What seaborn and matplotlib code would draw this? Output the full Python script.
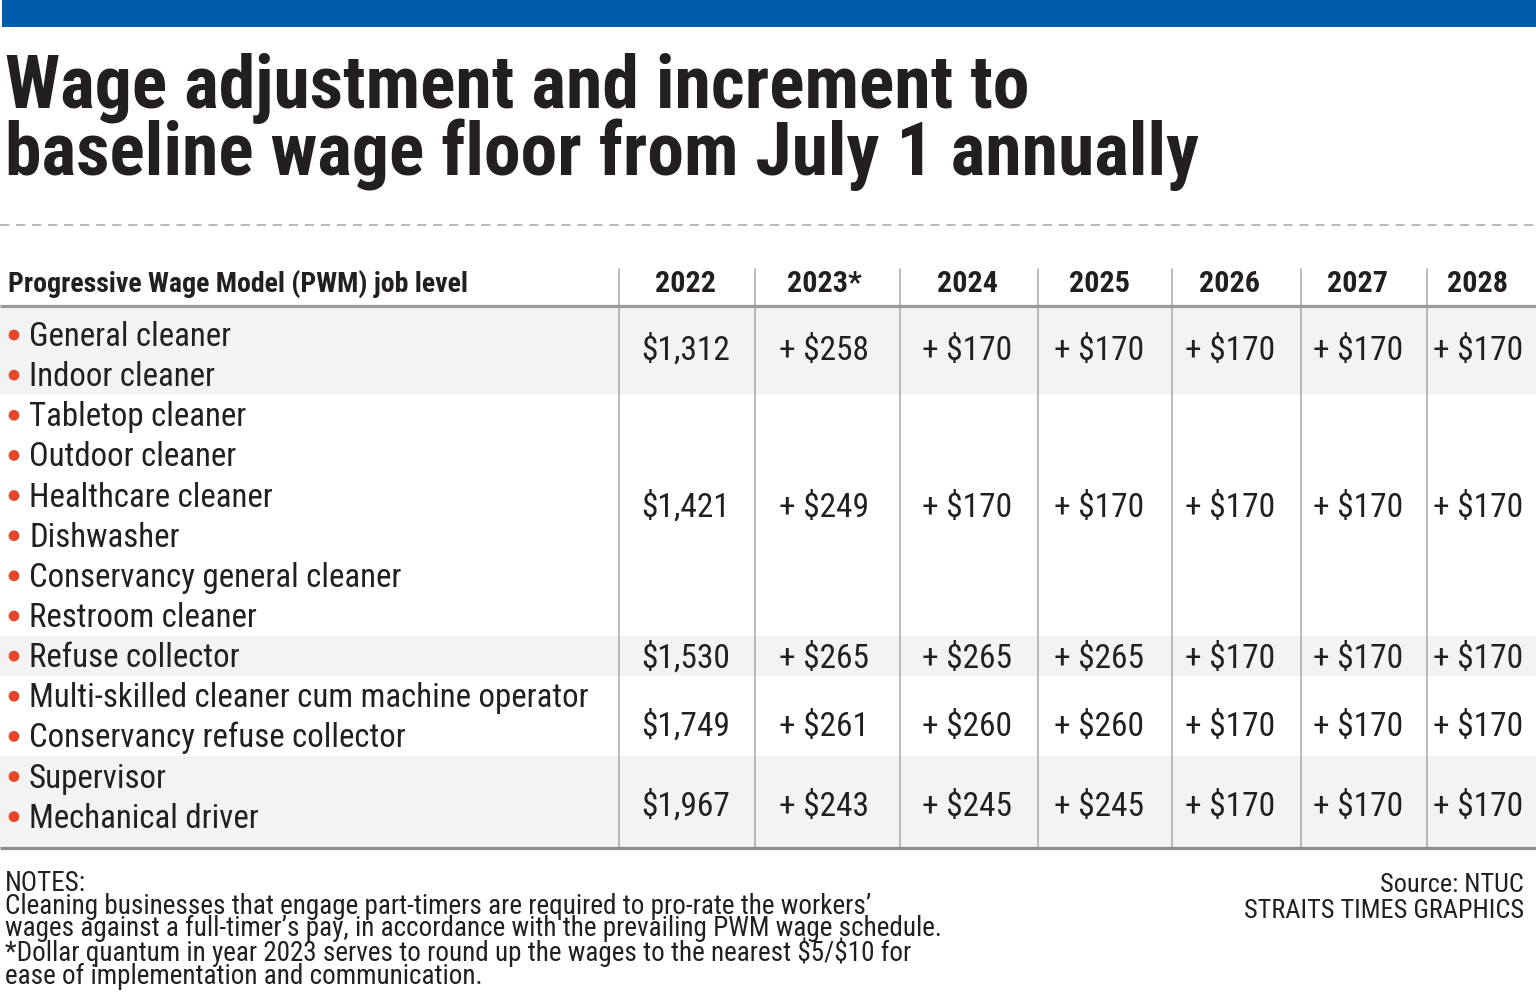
import numpy as np
import pandas as pd
import matplotlib
matplotlib.use("Agg")
import matplotlib.pyplot as plt
import seaborn as sns
from matplotlib import font_manager as fm
from matplotlib.patches import Rectangle

# ---------------- data ----------------
TITLE_LINES = ["Wage adjustment and increment to",
               "baseline wage floor from July 1 annually"]
HEADER_LABEL = "Progressive Wage Model (PWM) job level"
YEARS = ["2022", "2023*", "2024", "2025", "2026", "2027", "2028"]
JOB_GROUPS = [
    ["General cleaner", "Indoor cleaner"],
    ["Tabletop cleaner", "Outdoor cleaner", "Healthcare cleaner", "Dishwasher",
     "Conservancy general cleaner", "Restroom cleaner"],
    ["Refuse collector"],
    ["Multi-skilled cleaner cum machine operator", "Conservancy refuse collector"],
    ["Supervisor", "Mechanical driver"],
]
BASE_2022 = [1312, 1421, 1530, 1749, 1967]
INC_2023 = [258, 249, 265, 261, 243]
INC_2024 = [170, 170, 265, 260, 245]
INC_2025 = [170, 170, 265, 260, 245]
INC_2026 = [170, 170, 170, 170, 170]
INC_2027 = [170, 170, 170, 170, 170]
INC_2028 = [170, 170, 170, 170, 170]
NOTES = [
    "NOTES:",
    "Cleaning businesses that engage part-timers are required to pro-rate the workers\u2019",
    "wages against a full-timer\u2019s pay, in accordance with the prevailing PWM wage schedule.",
    "*Dollar quantum in year 2023 serves to round up the wages to the nearest $5/$10 for",
    "ease of implementation and communication.",
]
SOURCE = ["Source: NTUC", "STRAITS TIMES GRAPHICS"]

# ---------------- layout / style ----------------
W, H = 1536, 995
TEXT = "#231f20"
BLUE = "#005dab"
SHADE = "#f2f3f2"
RULE = "#9b9b9b"
BULLET = "#e8462a"

COL_SEP_X = [619, 755, 900, 1038, 1172, 1301, 1427]
COL_TEXT_X = [686, 824, 967, 1099, 1230, 1358, 1478]
ITEM_Y0, ITEM_DY = 336.0, 40.14
VALUE_BASELINE = [360, 517, 668, 736, 816]
TABLE_TOP, TABLE_BOTTOM = 307, 849
NOTE_Y0, NOTE_DY = 891.0, 23.2

sns.set_theme(style="white")
avail = {f.name for f in fm.fontManager.ttflist}


def pick(cands):
    for c in cands:
        if c in avail:
            return c
    return "DejaVu Sans"


NARROW = pick(["Roboto Condensed", "Liberation Sans Narrow", "Roboto", "DejaVu Sans"])
FAM = [NARROW, "DejaVu Sans"]
plt.rcParams["font.family"] = FAM

fig = plt.figure(figsize=(W / 100, H / 100), dpi=100)
ax = fig.add_axes([0, 0, 1, 1])
ax.set_xlim(0, W)
ax.set_ylim(H, 0)
ax.axis("off")
renderer = fig.canvas.get_renderer()


def txt(x, y, s, **kw):
    kw.setdefault("color", TEXT)
    kw.setdefault("va", "baseline")
    return ax.text(x, y, s, parse_math=False, family=FAM, **kw)


def fit_size(text, weight, target_w, base=20.0):
    t = txt(0, 0, text, fontsize=base, weight=weight)
    w = t.get_window_extent(renderer).width
    t.remove()
    return base * target_w / w


def height_of(s, fs, ls):
    t = txt(0, 0, s, fontsize=fs, linespacing=ls)
    h = t.get_window_extent(renderer).height
    t.remove()
    return h


# top blue bar
ax.add_patch(Rectangle((2, 0), W - 2, 28, color=BLUE, lw=0, zorder=1))

# title
fs_title = fit_size(TITLE_LINES[1], "bold", 1193)
for line, yb in zip(TITLE_LINES, [108, 175]):
    txt(5, yb, line, fontsize=fs_title, weight="bold", ha="left")

# dashed separator
ax.plot([0, W], [226, 226], color="#a6a6a6", lw=1.1, dashes=(6, 4.5), zorder=2)

# header
fs_head = fit_size(HEADER_LABEL, "bold", 460)
txt(8, 292, HEADER_LABEL, fontsize=fs_head, weight="bold")
for x, yr in zip(COL_TEXT_X, YEARS):
    txt(x, 292, yr, fontsize=fs_head * 1.08, weight="bold", ha="center")

# row bands
starts = np.cumsum([0] + [len(g) for g in JOB_GROUPS])
centers = [ITEM_Y0 + ITEM_DY * k for k in range(starts[-1])]
for gi, g in enumerate(JOB_GROUPS):
    top = TABLE_TOP if gi == 0 else centers[starts[gi]] - ITEM_DY / 2
    bot = TABLE_BOTTOM if gi == len(JOB_GROUPS) - 1 else centers[starts[gi + 1] - 1] + ITEM_DY / 2
    if gi % 2 == 0:
        ax.add_patch(Rectangle((0, top), W, bot - top, color=SHADE, lw=0, zorder=0))

# rules
for x in COL_SEP_X:
    ax.plot([x, x], [270, TABLE_BOTTOM], color="#a8a8a8", lw=1.1, zorder=3)
ax.plot([0, W], [TABLE_TOP, TABLE_TOP], color=RULE, lw=2.3, zorder=4, solid_capstyle="butt")
ax.plot([0, W], [TABLE_BOTTOM, TABLE_BOTTOM], color="#8e8e8e", lw=2.3, zorder=4,
        solid_capstyle="butt")

# job items with bullets
items = [j for g in JOB_GROUPS for j in g]
df_items = pd.DataFrame({"job": items, "x": 14.0, "y": centers})
sns.scatterplot(data=df_items, x="x", y="y", ax=ax, color=BULLET, s=60,
                edgecolor="none", legend=False, zorder=5)
fs_item = fit_size("Multi-skilled cleaner cum machine operator", "normal", 559)
for job, c in zip(items, centers):
    txt(29, c + 10, job, fontsize=fs_item, ha="left")

# values
fs_val = fit_size("+ $249", "normal", 90)
cols = [BASE_2022, INC_2023, INC_2024, INC_2025, INC_2026, INC_2027, INC_2028]
for ci, (x, vals) in enumerate(zip(COL_TEXT_X, cols)):
    for gi, v in enumerate(vals):
        lab = f"${v:,}" if ci == 0 else f"+ ${v}"
        txt(x, VALUE_BASELINE[gi], lab, fontsize=fs_val, ha="center")

# notes: one multi-line block; calibrate linespacing so that line step = NOTE_DY
fs_note = fit_size(NOTES[2], "normal", 936)
block = "\n".join(NOTES)
n = len(NOTES)
h_single = height_of(NOTES[0], fs_note, 1.0)
h1 = height_of(block, fs_note, 1.0)
h2 = height_of(block, fs_note, 2.0)
slope = (h2 - h1) / (n - 1)
step1 = (h1 - h_single) / (n - 1)
intercept = step1 - slope
ls_note = (NOTE_DY - intercept) / slope
txt(5, NOTE_Y0 + NOTE_DY * (n - 1), block, fontsize=fs_note, ha="left",
    va="baseline", linespacing=ls_note, multialignment="left")

fs_src = fit_size(SOURCE[1], "normal", 279)
txt(1524, 892, SOURCE[0], fontsize=fs_src, ha="right")
txt(1524, 918, SOURCE[1], fontsize=fs_src, ha="right")

fig.savefig("out.png", dpi=100, facecolor="white")
